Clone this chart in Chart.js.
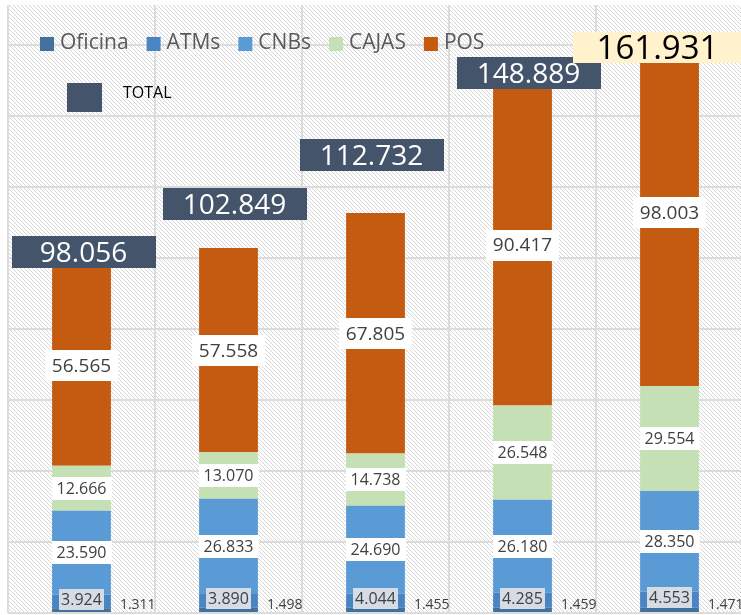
<!DOCTYPE html>
<html><head><meta charset="utf-8">
<script src="https://cdn.jsdelivr.net/npm/chart.js@4"></script>
<style>
html,body{margin:0;padding:0;background:#fff;overflow:hidden;}
#wrap{position:relative;width:750px;height:615px;}
</style></head>
<body><div id="wrap"><canvas id="c" width="750" height="615" style="width:750px;height:615px"></canvas></div>
<script>
// ---- data ----
const categories = ['1', '2', '3', '4', '5'];
const seriesNames = ['Oficina', 'ATMs', 'CNBs', 'CAJAS', 'POS'];
const oficina = [1311, 1498, 1455, 1459, 1471];
const atms    = [3924, 3890, 4044, 4285, 4553];
const cnbs    = [23590, 26833, 24690, 26180, 28350];
const cajas   = [12666, 13070, 14738, 26548, 29554];
const pos     = [56565, 57558, 67805, 90417, 98003];
const totals  = [98056, 102849, 112732, 148889, 161931];
const totalLabel = 'TOTAL';
const yTicks  = [0, 20000, 40000, 60000, 80000, 100000, 120000, 140000, 160000];

// ---- style ----
const colors = ['#41719c', '#4a85c3', '#5b9bd5', '#c5e0b4', '#c55a11'];
const totalBoxColor = '#44546a';
const lastTotalBoxColor = '#fff2cc';
const totalOffsetY = [3, -28, -42, 4, 25];   // box bottom relative to bar top (px)
const totalOffsetX = [2, 6, -4, 6, -12];
const FONT = '"Open Sans", "Noto Sans", sans-serif';

function fmt(v){ return String(v).replace(/\B(?=(\d{3})+(?!\d))/g, '.'); }

const pc = document.createElement('canvas'); pc.width = 4; pc.height = 4;
const pcx = pc.getContext('2d');
pcx.fillStyle = '#ffffff'; pcx.fillRect(0,0,4,4);
pcx.fillStyle = '#d6d6d6';
for (let i=0;i<4;i++) pcx.fillRect(i,i,1,1);

const hatchPlugin = {
  id:'hatch',
  beforeDraw(chart){
    const {ctx, chartArea:a} = chart;
    ctx.save();
    ctx.fillStyle = ctx.createPattern(pc, 'repeat');
    ctx.fillRect(a.left, a.top, a.right-a.left, a.bottom-a.top);
    ctx.restore();
  }
};

function box(ctx, cx, cy, w, h, fill){
  ctx.fillStyle = fill;
  ctx.fillRect(Math.round(cx - w/2), Math.round(cy - h/2), Math.round(w), Math.round(h));
}

const labelPlugin = {
  id:'labels',
  afterDatasetsDraw(chart){
    const ctx = chart.ctx;
    ctx.save();
    ctx.textAlign = 'center';
    ctx.textBaseline = 'middle';
    chart.data.datasets.forEach((ds, di) => {
      const meta = chart.getDatasetMeta(di);
      meta.data.forEach((el, j) => {
        const v = ds.data[j];
        const t = fmt(v);
        const cx = el.x, cy = (el.y + el.base)/2;
        if (di === 0) {
          ctx.font = '14px ' + FONT;
          ctx.fillStyle = '#404040';
          ctx.textAlign = 'left';
          ctx.fillText(t, el.x + el.width/2 + 9, cy - 5);
          ctx.textAlign = 'center';
        } else if (di === 1) {
          ctx.font = '16px ' + FONT;
          const w = ctx.measureText(t).width + 4;
          box(ctx, cx, cy - 2, w, 21, '#d6dce5');
          ctx.fillStyle = '#404040';
          ctx.fillText(t, cx, cy - 1);
        } else if (di === 4) {
          ctx.font = '19px ' + FONT;
          const w = ctx.measureText(t).width + 14;
          box(ctx, cx, cy, w, 31, '#ffffff');
          ctx.fillStyle = '#404040';
          ctx.fillText(t, cx, cy + 1);
        } else {
          ctx.font = '16px ' + FONT;
          const w = ctx.measureText(t).width + 10;
          box(ctx, cx, cy, w, 23, '#ffffff');
          ctx.fillStyle = '#404040';
          ctx.fillText(t, cx, cy + 1);
        }
      });
    });
    // totals
    const ys = chart.scales.y;
    const metaTop = chart.getDatasetMeta(4);
    totals.forEach((tv, j) => {
      const el = metaTop.data[j];
      const topY = ys.getPixelForValue(tv);
      const last = j === totals.length - 1;
      const h = last ? 31 : 32;
      const bottom = topY + totalOffsetY[j];
      const cy = bottom - h/2;
      const t = fmt(tv);
      ctx.font = (last ? '33px ' : '28px ') + FONT;
      const w = last ? ctx.measureText(t).width + 48 : 144;
      const cx = el.x + totalOffsetX[j];
      box(ctx, cx, cy, w, h, last ? lastTotalBoxColor : totalBoxColor);
      ctx.fillStyle = last ? '#000000' : '#ffffff';
      ctx.fillText(t, cx, cy + 2);
    });
    ctx.restore();
  },
  afterDraw(chart){
    const ctx = chart.ctx;
    ctx.save();
    ctx.font = '21px ' + FONT;
    ctx.textBaseline = 'middle';
    ctx.textAlign = 'left';
    let x = 40;
    seriesNames.forEach((n, i) => {
      ctx.fillStyle = colors[i];
      ctx.fillRect(x, 37, 14, 14);
      ctx.fillStyle = '#595959';
      ctx.fillText(n, x + 20, 43);
      x += 20 + ctx.measureText(n).width + 18;
    });
    ctx.fillStyle = totalBoxColor;
    ctx.fillRect(67, 83, 35, 29);
    ctx.fillStyle = '#000000';
    ctx.font = '16px ' + FONT;
    ctx.fillText(totalLabel, 123, 93);
    ctx.restore();
  }
};

const seriesData = [oficina, atms, cnbs, cajas, pos];
new Chart(document.getElementById('c'), {
  type: 'bar',
  data: {
    labels: categories,
    datasets: seriesNames.map((n, i) => ({
      label: n, data: seriesData[i], backgroundColor: colors[i], borderWidth: 0
    }))
  },
  options: {
    responsive: false, animation: false, devicePixelRatio: 1,
    layout: { padding: { left: 8, right: 7, top: 5, bottom: 2 } },
    plugins: { legend: { display: false }, tooltip: { enabled: false } },
    datasets: { bar: { barPercentage: 0.4, categoryPercentage: 1 } },
    scales: {
      x: { stacked: true, grid: { color: '#dcdcdc', lineWidth: 2, drawTicks: false, offset: true },
           border: { display: false }, ticks: { display: false } },
      y: { stacked: true, min: 0, max: 171300,
           afterBuildTicks: axis => { axis.ticks = yTicks.map(v => ({ value: v })); },
           grid: { color: '#dcdcdc', lineWidth: 2, drawTicks: false },
           border: { display: false }, ticks: { display: false } }
    }
  },
  plugins: [hatchPlugin, labelPlugin]
});
</script>
</body></html>
